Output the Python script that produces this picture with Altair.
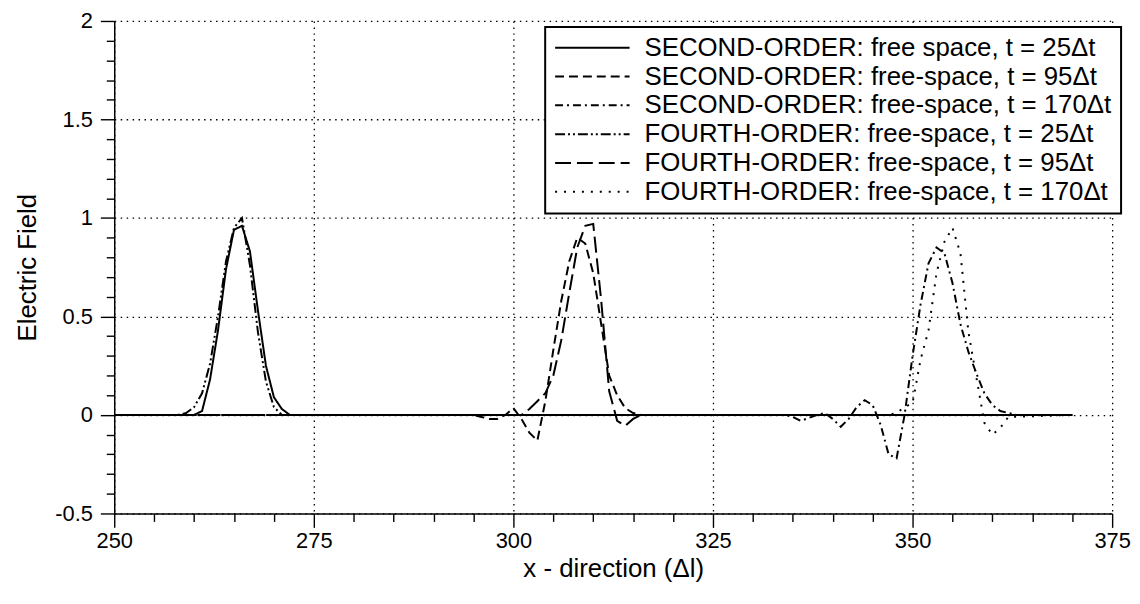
import altair as alt
import pandas as pd

# ---- series labels (legend order) ----
series_names = [
    "SECOND-ORDER: free space, t = 25\u0394t",
    "SECOND-ORDER: free-space, t = 95\u0394t",
    "SECOND-ORDER: free-space, t = 170\u0394t",
    "FOURTH-ORDER: free-space, t = 25\u0394t",
    "FOURTH-ORDER: free-space, t = 95\u0394t",
    "FOURTH-ORDER: free-space, t = 170\u0394t",
]

# ---- data ----
x_s25 = [250, 260, 261, 262, 263, 264, 265, 266, 267, 268, 269, 270, 271, 272, 370]
y_s25 = [0, 0, 0.02, 0.18, 0.43, 0.74, 0.94, 0.96, 0.83, 0.53, 0.25, 0.09, 0.03, 0, 0]

x_s95 = [250, 295, 296, 297, 298, 299, 300, 301, 302, 303, 304, 305, 306, 307, 308, 309,
         310, 311, 312, 313, 314, 315, 316, 370]
y_s95 = [0, 0, -0.01, -0.02, -0.02, 0.0, 0.035, -0.02, -0.09, -0.13, 0.07, 0.33, 0.58, 0.78,
         0.9, 0.87, 0.72, 0.46, 0.2, 0.1, 0.035, 0.01, 0, 0]

x_s170 = [250, 334, 335, 336, 337, 338, 339, 340, 341, 342, 343, 344, 345, 346, 347, 348,
          349, 350, 351, 352, 353, 354, 355, 356, 357, 358, 359, 360, 361, 362, 363, 370]
y_s170 = [0, 0, -0.01, -0.03, -0.015, 0.0, 0.01, -0.02, -0.06, -0.02, 0.04, 0.075, 0.05,
          -0.05, -0.2, -0.22, 0.0, 0.3, 0.56, 0.77, 0.85, 0.82, 0.67, 0.46, 0.32, 0.21, 0.11,
          0.05, 0.02, 0.01, 0, 0]

x_f25 = [250, 258, 259, 260, 261, 262, 263, 264, 265, 266, 267, 268, 269, 270, 271, 370]
y_f25 = [0, 0, 0.01, 0.04, 0.11, 0.26, 0.5, 0.78, 0.95, 1.0, 0.76, 0.42, 0.17, 0.04, 0, 0]

x_f95 = [250, 301, 302, 303, 304, 305, 306, 307, 308, 309, 310, 311, 312, 313, 314, 315, 316, 370]
y_f95 = [0, 0, 0.03, 0.07, 0.11, 0.2, 0.38, 0.62, 0.85, 0.96, 0.97, 0.58, 0.12, -0.03,
         -0.055, -0.02, 0, 0]

x_f170 = [250, 347, 348, 349, 350, 351, 352, 353, 354, 355, 356, 357, 358, 359, 360, 361, 362, 370]
y_f170 = [0, 0, 0.01, 0.04, 0.06, 0.28, 0.43, 0.72, 0.88, 0.95, 0.82, 0.42, 0.19, -0.04,
          -0.1, -0.065, -0.01, 0]

# ---- axis ticks (major every 25 / 0.5, minor every 5 / 0.1) ----
x_ticks = [250, 255, 260, 265, 270, 275, 280, 285, 290, 295, 300, 305, 310, 315, 320, 325,
           330, 335, 340, 345, 350, 355, 360, 365, 370, 375]
y_ticks = [-0.5, -0.4, -0.3, -0.2, -0.1, 0, 0.1, 0.2, 0.3, 0.4, 0.5, 0.6, 0.7, 0.8, 0.9, 1.0,
           1.1, 1.2, 1.3, 1.4, 1.5, 1.6, 1.7, 1.8, 1.9, 2.0]

dash_patterns = [[1, 0], [9, 5], [8, 4, 2, 4], [10, 3, 2, 3, 2, 3], [16, 6], [2, 7]]

rows = []
for name, xs, ys in zip(series_names,
                        [x_s25, x_s95, x_s170, x_f25, x_f95, x_f170],
                        [y_s25, y_s95, y_s170, y_f25, y_f95, y_f170]):
    for xv, yv in zip(xs, ys):
        rows.append({"x": xv, "y": yv, "series": name})
df = pd.DataFrame(rows)

FONT = "Liberation Sans"
W, H = 1005, 496

X_MAJOR = "datum.value % 25 == 0"
Y_MAJOR = "abs(datum.value * 2 - round(datum.value * 2)) < 0.001"

xscale = alt.Scale(domain=[250, 375], nice=False, zero=False)
yscale = alt.Scale(domain=[-0.5, 2], nice=False, zero=False)

x_axis = alt.Axis(
    orient="bottom", values=x_ticks, grid=True, gridDash=[1.5, 4.5], gridColor="black",
    gridWidth=1.3,
    gridOpacity={"condition": {"test": X_MAJOR, "value": 1}, "value": 0},
    tickSize={"condition": {"test": X_MAJOR, "value": 14}, "value": 8},
    tickColor="black", tickWidth=1.4,
    domainColor="black", domainWidth=1.5, labelFont=FONT, labelFontSize=22,
    labelColor="black", labelPadding=3, labelFlush=False, labelOverlap=False,
    labelExpr=X_MAJOR + " ? datum.label : ''",
    title="x - direction (\u0394l)", titleFont=FONT, titleFontSize=26,
    titleFontWeight="normal", titleColor="black", titlePadding=4)

y_axis = alt.Axis(
    orient="left", values=y_ticks, grid=True, gridDash=[1.5, 4.5], gridColor="black",
    gridWidth=1.3,
    gridOpacity={"condition": {"test": Y_MAJOR, "value": 1}, "value": 0},
    tickSize={"condition": {"test": Y_MAJOR, "value": 14}, "value": 8},
    tickColor="black", tickWidth=1.4,
    domainColor="black", domainWidth=1.5, labelFont=FONT, labelFontSize=22,
    labelColor="black", labelPadding=8, labelFlush=False, labelOverlap=False,
    labelExpr=Y_MAJOR + " ? (datum.value < 0 ? '-' + format(-datum.value, '~g')"
              " : format(datum.value, '~g')) : ''",
    title="Electric Field", titleFont=FONT, titleFontSize=26,
    titleFontWeight="normal", titleColor="black", titlePadding=14)

chart = alt.Chart(df).mark_line(color="black", strokeWidth=2).encode(
    x=alt.X("x:Q", scale=xscale, axis=x_axis),
    y=alt.Y("y:Q", scale=yscale, axis=y_axis),
    strokeDash=alt.StrokeDash(
        "series:N",
        scale=alt.Scale(domain=series_names, range=dash_patterns),
        legend=alt.Legend(
            orient="none", legendX=434, legendY=6, title=None,
            symbolType="stroke", symbolSize=5625, symbolStrokeWidth=2,
            symbolStrokeColor="black", clipHeight=24, rowPadding=3,
            labelFont=FONT, labelFontSize=26, labelColor="black", labelLimit=900,
            labelOffset=14, padding=9, strokeColor="black", fillColor="white",
        ),
    ),
    order="x:Q",
).properties(
    width=W, height=H,
    autosize=alt.AutoSizeParams(type="none"),
    padding={"left": 107, "top": 11, "right": 20, "bottom": 72},
    background="white",
).configure_view(strokeWidth=0).configure_legend(strokeWidth=2)

chart.save("out.html", embed_options={"renderer": "svg", "actions": False})
